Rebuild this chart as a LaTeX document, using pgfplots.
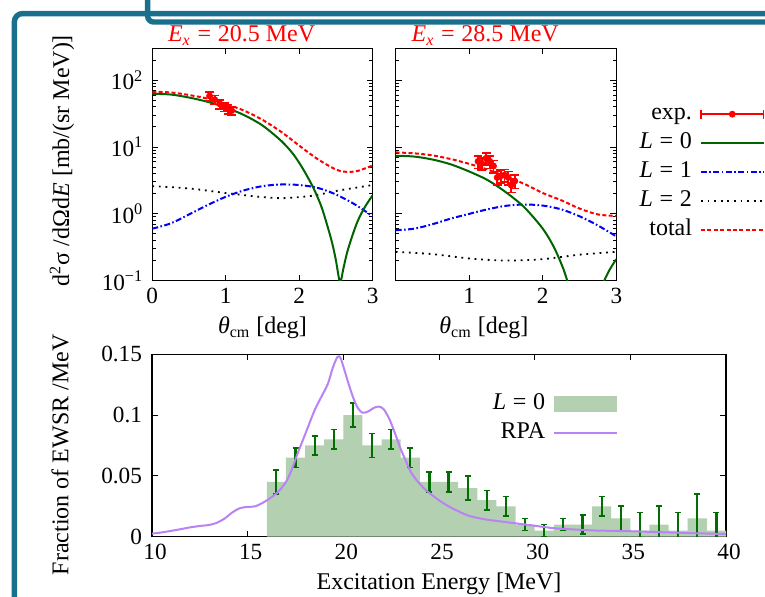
\documentclass[border=0pt]{standalone}
\usepackage{fontspec}
\setmainfont{Liberation Serif}
\usepackage{pgfplots}
\pgfplotsset{compat=1.18}

\definecolor{frameteal}{RGB}{24,112,140}
\definecolor{lzero}{RGB}{0,100,0}
\definecolor{barfill}{RGB}{179,208,177}
\definecolor{errgreen}{RGB}{0,110,0}
\definecolor{rpa}{RGB}{185,130,245}

\newcommand{\eq}{\hspace{0.28em}=\hspace{0.28em}}
\newcommand{\fnt}{\fontsize{12}{14}\selectfont}
\newcommand{\tfnt}{\fontsize{11.6}{13.5}\selectfont}

\tikzset{
  stL0/.style={lzero, line width=1pt},
  stL1/.style={blue, line width=1pt, dash pattern=on 3pt off 1.2pt on 0.8pt off 1.2pt},
  stL2/.style={black, line width=0.9pt, dash pattern=on 0.9pt off 2.4pt},
  stTot/.style={red, line width=1pt, dash pattern=on 2pt off 1.2pt},
}

\begin{document}
\begin{tikzpicture}
\useasboundingbox (0,0) rectangle (382.5pt,-298.5pt);
\fill[white] (0,0) rectangle (382.5pt,-298.5pt);

% slide frame pieces
\draw[frameteal, line width=2.7pt, rounded corners=4pt]
  (7.2pt,-305pt) -- (7.2pt,-6.8pt) -- (390pt,-6.8pt);
\draw[frameteal, line width=2.7pt, rounded corners=3pt]
  (73.8pt,5pt) -- (73.8pt,-11pt) -- (390pt,-11pt);

% ---- left panel: Ex = 20.5 MeV
\begin{axis}[ymode=log, scale only axis, width=110.2pt, height=116.2pt,
  at={(76.15pt,-140.35pt)}, anchor=south west,
  xmin=0, xmax=3, ymin=0.1, ymax=300, xtick={0,1,2,3},
  ytick={0.1,1,10,100},
  minor ytick={0.2,0.3,0.4,0.5,0.6,0.7,0.8,0.9,2,3,4,5,6,7,8,9,20,30,40,50,60,70,80,90,200,300},
  tick align=inside, major tick length=3pt, minor tick length=1.7pt,
  axis line style={line width=0.6pt}, tick style={black, line width=0.5pt},
  font=\fnt, tick label style={font=\tfnt}, yticklabel style={xshift=-1pt},
  xticklabels={0,1,2,3},
  yticklabels={10\textsuperscript{−1},10\textsuperscript{0},10\textsuperscript{1},10\textsuperscript{2}},
  every axis title shift=0pt,
  title={\textit{E}\textsubscript{\textit{x}}\eq 20.5 MeV},
  title style={red, font=\fnt, at={(axis description cs:0.405,1.0284)}, anchor=base, inner sep=0pt},
  xlabel={\textit{θ}\textsubscript{cm} [deg]},
  ylabel={d\textsuperscript{2}σ /dΩd\textit{E} [mb/(sr MeV)]},
  ylabel style={at={(axis description cs:-0.41,0.517)}, anchor=center},
]
\addplot[stL2, smooth] coordinates {(0,2.6) (0.5,2.4) (1.0,2.05) (1.5,1.78) (1.8,1.72) (2.2,1.88) (2.5,2.2) (3.0,2.7)};
\addplot[stL1, smooth] coordinates {(0,0.6) (0.25,0.72) (0.5,0.98) (0.75,1.35) (1.0,1.8) (1.25,2.25) (1.5,2.6) (1.75,2.75) (2.0,2.7) (2.25,2.45) (2.5,1.95) (2.75,1.4) (3.0,0.92)};
\addplot[stL0, smooth] coordinates {(0,62.5) (0.25,61) (0.5,55) (0.75,47.5) (1.0,39) (1.25,30) (1.5,21) (1.75,12.5) (1.9,8.3) (2.0,5.8) (2.1,3.8) (2.2,2.35) (2.3,1.3) (2.38,0.68) (2.45,0.36) (2.5,0.2) (2.555,0.095) (2.6,0.15) (2.65,0.26) (2.72,0.46) (2.8,0.8) (2.9,1.3) (3.0,1.9)};
\addplot[stTot, smooth] coordinates {(0,67) (0.25,65.5) (0.5,60) (0.75,53) (1.0,44) (1.25,35) (1.5,25.5) (1.75,17) (2.0,10.5) (2.25,6.6) (2.5,4.6) (2.65,4.25) (2.8,4.4) (3.0,5.3)};
\addplot[red, only marks, mark=*, mark size=1.5pt,
  error bars/.cd, y dir=both, y explicit,
  error bar style={red, line width=0.8pt},
  error mark options={rotate=90, red, mark size=2.2pt, line width=0.8pt}]
  coordinates {(0.78,58) +- (0,9) (0.85,51) +- (0,8) (0.92,44) +- (0,7) (0.98,40) +- (0,6) (1.03,37) +- (0,6) (1.08,35) +- (0,5)};
\end{axis}

% ---- right panel: Ex = 28.5 MeV
\begin{axis}[ymode=log, scale only axis, width=110.3pt, height=116.2pt,
  at={(197.85pt,-140.35pt)}, anchor=south west,
  xmin=0, xmax=3, ymin=0.1, ymax=300, xtick={0,1,2,3},
  ytick={0.1,1,10,100},
  minor ytick={0.2,0.3,0.4,0.5,0.6,0.7,0.8,0.9,2,3,4,5,6,7,8,9,20,30,40,50,60,70,80,90,200,300},
  tick align=inside, major tick length=3pt, minor tick length=1.7pt,
  axis line style={line width=0.6pt}, tick style={black, line width=0.5pt},
  font=\fnt, tick label style={font=\tfnt},
  xticklabels={,1,2,3}, yticklabels={},
  every axis title shift=0pt,
  title={\textit{E}\textsubscript{\textit{x}}\eq 28.5 MeV},
  title style={red, font=\fnt, at={(axis description cs:0.406,1.0284)}, anchor=base, inner sep=0pt},
  xlabel={\textit{θ}\textsubscript{cm} [deg]},
  xlabel style={at={(ticklabel cs:0.40)}},
  legend style={at={(axis description cs:1.674,0.772)}, anchor=north east,
    draw=none, fill=none, inner sep=0pt, row sep=2pt, column sep=3pt, font=\fnt,
    nodes={inner sep=1pt, text height=8pt, text depth=2.5pt}},
  legend cell align=right, legend plot pos=right,
  legend image code/.code={\draw[#1] (0cm,0cm) -- (1.1cm,0cm);},
]
\addlegendimage{legend image code/.code={
  \draw[red, line width=0.8pt] (0cm,0cm) -- (1.1cm,0cm);
  \draw[red, line width=0.8pt] (0cm,-2.2pt) -- (0cm,2.2pt) (1.1cm,-2.2pt) -- (1.1cm,2.2pt);
  \fill[red] (0.55cm,0cm) circle (1.5pt);}}
\addlegendentry{exp.}
\addlegendimage{stL0}\addlegendentry{\textit{L}\eq 0}
\addlegendimage{stL1}\addlegendentry{\textit{L}\eq 1}
\addlegendimage{stL2}\addlegendentry{\textit{L}\eq 2}
\addlegendimage{stTot}\addlegendentry{total}
\addplot[stL2, smooth, forget plot] coordinates {(0,0.27) (0.5,0.25) (1.0,0.215) (1.5,0.2) (2.0,0.21) (2.5,0.245) (3.0,0.27)};
\addplot[stL1, smooth, forget plot] coordinates {(0,0.57) (0.25,0.6) (0.5,0.7) (0.75,0.85) (1.0,1.0) (1.25,1.17) (1.5,1.32) (1.75,1.38) (2.0,1.33) (2.25,1.17) (2.5,0.92) (2.75,0.67) (3.0,0.46)};
\addplot[stL0, smooth, forget plot] coordinates {(0,7.4) (0.25,7.2) (0.5,6.5) (0.75,5.5) (1.0,4.3) (1.25,3.2) (1.5,2.1) (1.75,1.25) (2.0,0.6) (2.15,0.32) (2.28,0.15) (2.4,0.06) (2.55,0.025) (2.7,0.035) (2.8,0.08) (2.9,0.14) (3.0,0.21)};
\addplot[stTot, smooth, forget plot] coordinates {(0,8.3) (0.25,8.05) (0.5,7.5) (0.75,6.6) (1.0,5.6) (1.25,4.6) (1.5,3.6) (1.75,2.8) (2.0,2.05) (2.25,1.6) (2.5,1.2) (2.75,0.98) (3.0,0.93)};
\addplot[forget plot, red, only marks, mark=*, mark size=1.5pt,
  error bars/.cd, y dir=both, y explicit,
  error bar style={red, line width=0.8pt},
  error mark options={rotate=90, red, mark size=2.2pt, line width=0.8pt}]
  coordinates {(1.12,6.1) +- (0,1.3) (1.17,5.7) +- (0,1.2) (1.23,6.8) +- (0,1.4) (1.28,6.1) +- (0,1.3) (1.33,5.2) +- (0,1.1) (1.38,3.5) +- (0,0.8) (1.43,3.7) +- (0,0.8) (1.48,3.8) +- (0,0.8) (1.53,3.5) +- (0,0.8) (1.57,2.7) +- (0,0.6) (1.62,3.1) +- (0,0.7)};
\end{axis}

% ---- strength distribution
\begin{axis}[scale only axis, width=287pt, height=91.2pt,
  at={(76pt,-268.35pt)}, anchor=south west,
  xmin=10, xmax=40, ymin=0, ymax=0.15,
  xtick={10,15,20,25,30,35,40}, xticklabels={10,15,20,25,30,35,40},
  ytick={0,0.05,0.1,0.15}, yticklabels={0,0.05,0.1,0.15},
  tick align=inside, major tick length=3pt,
  axis line style={line width=0.6pt}, tick style={black, line width=0.5pt},
  font=\fnt, tick label style={font=\tfnt}, yticklabel style={xshift=-1.5pt},
  xticklabel style={xshift=1.5pt},
  xlabel={Excitation Energy [MeV]},
  ylabel={Fraction of EWSR /MeV},
  ylabel style={at={(axis description cs:-0.16,0.448)}, anchor=center},
  legend style={at={(axis description cs:0.812,0.80)}, anchor=north east,
    draw=none, fill=none, inner sep=0pt, row sep=2pt, column sep=3pt, font=\fnt,
    nodes={inner sep=1pt, text height=8pt, text depth=2.5pt}},
  legend cell align=right, legend plot pos=right,
  legend image code/.code={\draw[#1] (0cm,0cm) -- (1.1cm,0cm);},
]
\addlegendimage{legend image code/.code={\fill[barfill] (0cm,-3.75pt) rectangle (1.1cm,3.75pt);}}
\addlegendentry{\textit{L}\eq 0}
\addlegendimage{rpa, line width=1pt}
\addlegendentry{RPA}
\addplot[const plot, fill=barfill, draw=none, forget plot] coordinates {
  (16,0.045) (17,0.065) (18,0.075) (19,0.080) (20,0.100) (21,0.075)
  (22,0.080) (23,0.065) (24,0.045) (25,0.045) (26,0.040) (27,0.030)
  (28,0.025) (29,0.010) (30,0.005) (31,0.010) (32,0.010) (33,0.025)
  (34,0.015) (35,0.005) (36,0.010) (37,0.005) (38,0.015) (39,0.005)
  (40,0.005)} \closedcycle;
\addplot[forget plot, errgreen, only marks, mark=*, mark size=0pt,
  mark options={draw=none, fill=none},
  error bars/.cd, y dir=both, y explicit,
  error bar style={draw=errgreen, line width=1.1pt},
  error mark options={rotate=90, draw=errgreen, mark size=1.5pt, line width=0.8pt}]
  coordinates {
  (16.5,0.045) +- (0,0.010) (17.5,0.065) +- (0,0.008) (18.5,0.075) +- (0,0.008)
  (19.5,0.080) +- (0,0.008) (20.5,0.100) +- (0,0.010) (21.5,0.075) +- (0,0.010)
  (22.5,0.080) +- (0,0.008) (23.5,0.065) +- (0,0.008) (24.5,0.045) +- (0,0.008)
  (25.5,0.045) +- (0,0.008) (26.5,0.040) +- (0,0.010) (27.5,0.030) +- (0,0.008)
  (28.5,0.025) +- (0,0.008) (29.5,0.010) +- (0,0.005) (30.5,0.005) +- (0,0.005)
  (31.5,0.010) +- (0,0.005) (32.5,0.010) +- (0,0.008) (33.5,0.025) +- (0,0.008)
  (34.5,0.015) +- (0,0.010) (35.5,0.005) +- (0,0.015) (36.5,0.010) +- (0,0.015)
  (37.5,0.005) +- (0,0.015) (38.5,0.015) +- (0,0.020) (39.5,0.005) +- (0,0.015)};
\addplot[rpa, line width=1pt, smooth, forget plot] coordinates {
  (10.0,0.0025) (10.5,0.0035) (11.0,0.0048) (11.5,0.0062) (12.0,0.0077)
  (12.5,0.0088) (13.0,0.0097) (13.4,0.0115) (13.8,0.015) (14.2,0.020)
  (14.6,0.0235) (15.0,0.0245) (15.4,0.025) (15.8,0.028) (16.2,0.032)
  (16.6,0.037) (17.0,0.045) (17.3,0.055) (17.6,0.068) (18.0,0.084)
  (18.5,0.104) (18.95,0.118) (19.2,0.126) (19.45,0.139) (19.7,0.148)
  (19.85,0.147) (20.0,0.140) (20.25,0.127) (20.5,0.115) (20.75,0.106)
  (21.0,0.102) (21.3,0.103) (21.6,0.106) (21.85,0.107) (22.1,0.105)
  (22.4,0.097) (22.7,0.085) (23.0,0.072) (23.25,0.063) (23.5,0.054)
  (23.8,0.047) (24.3,0.0385) (25.0,0.030) (25.5,0.025) (26.0,0.021)
  (26.5,0.0175) (27.0,0.0155) (27.5,0.014) (28.0,0.013) (29.0,0.011)
  (30.0,0.009) (31.0,0.007) (32.0,0.006) (33.0,0.0052) (34.0,0.0048)
  (35.0,0.0045) (36.0,0.004) (37.0,0.0035) (38.0,0.003) (39.0,0.0026)
  (40.0,0.0022)};
\end{axis}
\end{tikzpicture}
\end{document}
